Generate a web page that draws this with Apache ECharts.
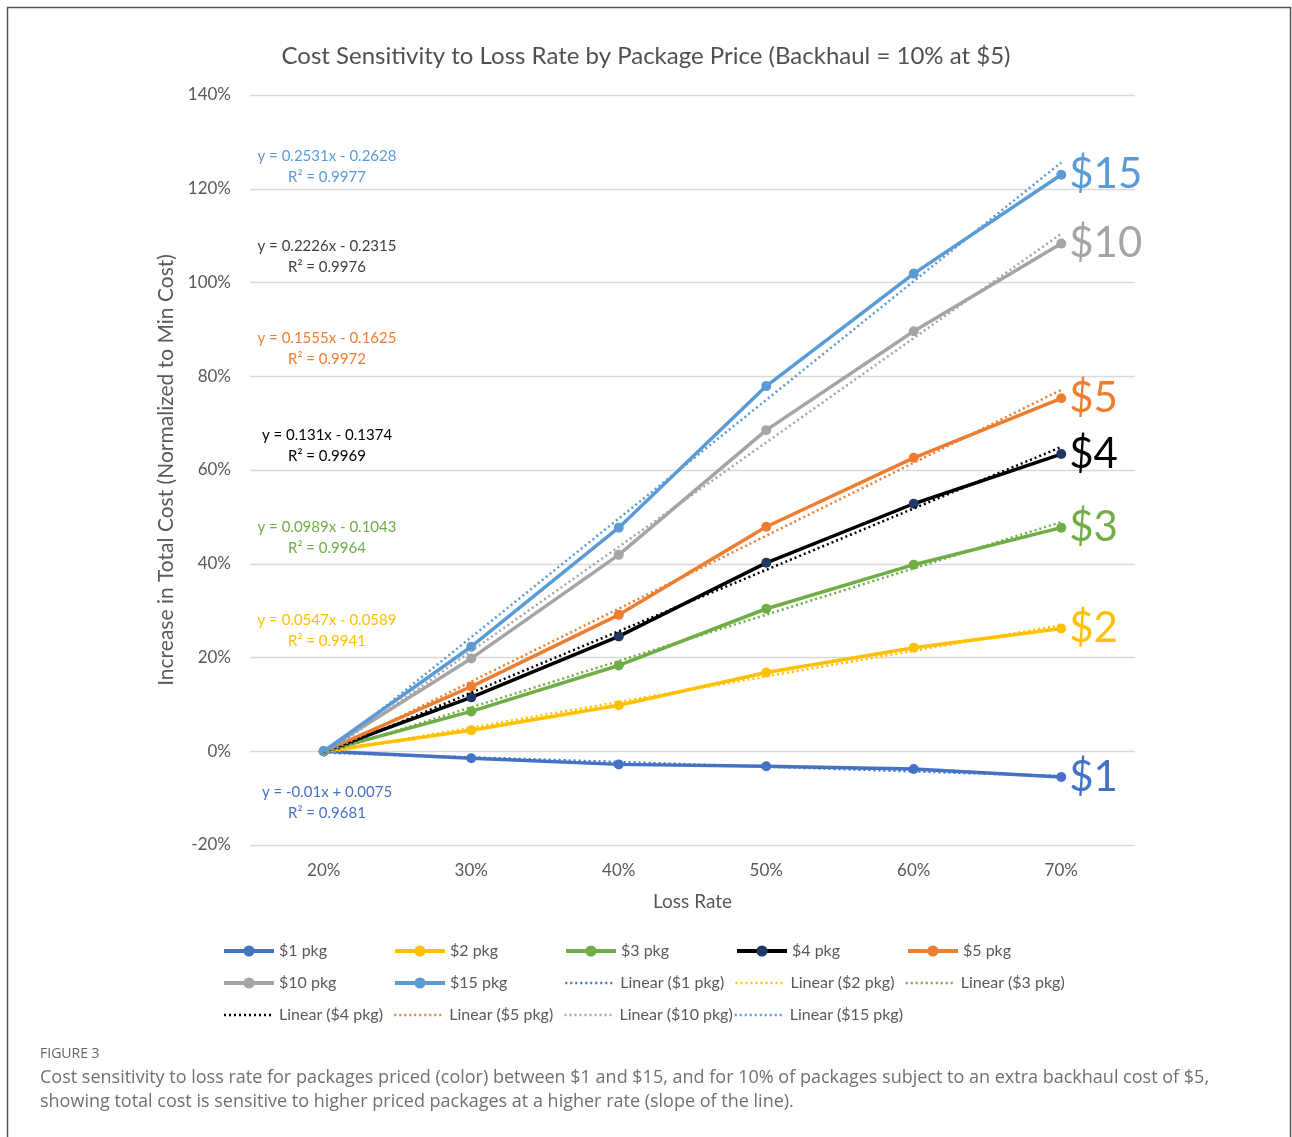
<!DOCTYPE html>
<html>
<head>
<meta charset="utf-8">
<script src="https://cdn.jsdelivr.net/npm/echarts@6/dist/echarts.min.js"></script>
<style>
  html, body { margin: 0; padding: 0; background: #fff; }
  #main { width: 1292px; height: 1137px; }
</style>
</head>
<body>
<div id="main"></div>
<script>
// loss rate categories
var lossRates = ['20%', '30%', '40%', '50%', '60%', '70%'];

// increase in total cost, %
var pkg1  = [0, -1.5, -2.8, -3.2, -3.8, -5.5];
var pkg2  = [0, 4.5, 9.8, 16.8, 22.1, 26.2];
var pkg3  = [0, 8.5, 18.3, 30.4, 39.8, 47.7];
var pkg4  = [0, 11.5, 24.5, 40.2, 52.8, 63.4];
var pkg5  = [0, 13.8, 29.1, 47.9, 62.6, 75.3];
var pkg10 = [0, 19.8, 41.9, 68.5, 89.6, 108.3];
var pkg15 = [0, 22.3, 47.7, 77.9, 101.9, 123.0];

// linear trendline ends (first and last category), %
var trend1  = [-0.3, null, null, null, null, -5.3];
var trend2  = [-0.4, null, null, null, null, 26.9];
var trend3  = [-0.5, null, null, null, null, 48.9];
var trend4  = [-0.6, null, null, null, null, 64.9];
var trend5  = [-0.7, null, null, null, null, 77.1];
var trend10 = [-0.9, null, null, null, null, 110.4];
var trend15 = [-1.0, null, null, null, null, 125.6];

// trendline equations shown on the chart
var eqLines = ['y = 0.2531x - 0.2628', 'y = 0.2226x - 0.2315', 'y = 0.1555x - 0.1625',
               'y = 0.131x - 0.1374', 'y = 0.0989x - 0.1043', 'y = 0.0547x - 0.0589',
               'y = -0.01x + 0.0075'];
var r2Lines = ['R² = 0.9977', 'R² = 0.9976', 'R² = 0.9972', 'R² = 0.9969',
               'R² = 0.9964', 'R² = 0.9941', 'R² = 0.9681'];

var pkgNames = ['$1 pkg', '$2 pkg', '$3 pkg', '$4 pkg', '$5 pkg', '$10 pkg', '$15 pkg'];
var trendNames = ['Linear ($1 pkg)', 'Linear ($2 pkg)', 'Linear ($3 pkg)', 'Linear ($4 pkg)',
                  'Linear ($5 pkg)', 'Linear ($10 pkg)', 'Linear ($15 pkg)'];

var FONT = 'Lato';
var c1 = '#4472C4', c2 = '#FFC000', c3 = '#70AD47', c4 = '#000000',
    c5 = '#ED7D31', c10 = '#A5A5A5', c15 = '#5B9BD5';

function pkgSeries(name, data, color, tag, markerColor) {
    return {
        name: name,
        type: 'line',
        data: data,
        symbol: 'circle',
        symbolSize: 10,
        lineStyle: { color: color, width: 3.5 },
        itemStyle: { color: markerColor || color },
        endLabel: {
            show: true,
            formatter: tag,
            color: color,
            fontFamily: FONT,
            fontSize: 42,
            distance: 8
        },
        emphasis: { disabled: true },
        z: 2
    };
}

function trendSeries(name, data, color) {
    return {
        name: name,
        type: 'line',
        data: data,
        connectNulls: true,
        symbol: 'none',
        lineStyle: { color: color, width: 2.5, type: [2, 3] },
        itemStyle: { color: color },
        emphasis: { disabled: true },
        z: 3
    };
}

var legendData = [];
pkgNames.forEach(function (n) {
    legendData.push({ name: n, lineStyle: { width: 4 } });
});
trendNames.forEach(function (n) {
    legendData.push({ name: n, lineStyle: { width: 2.5 }, itemStyle: { opacity: 0 } });
});

var eqColors = [c15, '#404040', c5, '#000000', c3, c2, c1];
var eqY = [156, 246, 338, 435, 527, 620, 792];
var graphics = [
    { type: 'rect', shape: { x: 7.5, y: 7.5, width: 1283, height: 1150 },
      style: { fill: null, stroke: '#555', lineWidth: 1.5 }, silent: true },
    { type: 'text', left: 40, top: 1047,
      style: { text: 'FIGURE 3', fill: '#666', font: '14px "Open Sans"' } },
    { type: 'text', left: 40, top: 1066,
      style: { text: 'Cost sensitivity to loss rate for packages priced (color) between $1 and $15, and for 10% of packages subject to an extra backhaul cost of $5,\nshowing total cost is sensitive to higher priced packages at a higher rate (slope of the line).',
               fill: '#707070', font: '18px "Open Sans"', lineHeight: 24 } }
];
for (var i = 0; i < eqLines.length; i++) {
    graphics.push({ type: 'text', x: 327, y: eqY[i],
        style: { text: eqLines[i], fill: eqColors[i], font: '15px ' + FONT, align: 'center', verticalAlign: 'middle' } });
    graphics.push({ type: 'text', x: 327, y: eqY[i] + 21,
        style: { text: r2Lines[i], fill: eqColors[i], font: '15px ' + FONT, align: 'center', verticalAlign: 'middle' } });
}

var chart = echarts.init(document.getElementById('main'));
chart.setOption({
    animation: false,
    backgroundColor: '#fff',
    textStyle: { fontFamily: FONT },
    title: {
        text: 'Cost Sensitivity to Loss Rate by Package Price (Backhaul = 10% at $5)',
        left: 'center',
        top: 39,
        textStyle: { fontFamily: FONT, fontSize: 24, fontWeight: 'normal', color: '#505050' }
    },
    grid: { left: 250, right: 157, top: 95, bottom: 292, containLabel: false },
    xAxis: {
        type: 'category',
        data: lossRates,
        boundaryGap: true,
        name: 'Loss Rate',
        nameLocation: 'middle',
        nameGap: 47,
        nameTextStyle: { fontFamily: FONT, fontSize: 19, color: '#595959' },
        axisLine: { show: false },
        axisTick: { show: false },
        axisLabel: { fontFamily: FONT, fontSize: 17, color: '#595959', margin: 17 }
    },
    yAxis: {
        type: 'value',
        min: -20,
        max: 140,
        interval: 20,
        name: 'Increase in Total Cost (Normalized to Min Cost)',
        nameLocation: 'middle',
        nameGap: 71,
        nameTextStyle: { fontFamily: FONT, fontSize: 21, color: '#595959' },
        axisLine: { show: false },
        axisTick: { show: false },
        axisLabel: { fontFamily: FONT, fontSize: 17, color: '#595959', margin: 19, formatter: '{value}%' },
        splitLine: { lineStyle: { color: '#d9d9d9', width: 1.3 } }
    },
    legend: {
        left: 222,
        top: 935,
        width: 870,
        padding: 0,
        itemWidth: 50,
        itemHeight: 14,
        itemGap: 0,
        textStyle: { fontFamily: FONT, fontSize: 16, color: '#595959', width: 114, lineHeight: 32 },
        data: legendData
    },
    graphic: graphics,
    series: [
        pkgSeries(pkgNames[0], pkg1, c1, '$1'),
        pkgSeries(pkgNames[1], pkg2, c2, '$2'),
        pkgSeries(pkgNames[2], pkg3, c3, '$3'),
        pkgSeries(pkgNames[3], pkg4, c4, '$4', '#1F3864'),
        pkgSeries(pkgNames[4], pkg5, c5, '$5'),
        pkgSeries(pkgNames[5], pkg10, c10, '$10'),
        pkgSeries(pkgNames[6], pkg15, c15, '$15'),
        trendSeries(trendNames[0], trend1, c1),
        trendSeries(trendNames[1], trend2, c2),
        trendSeries(trendNames[2], trend3, c3),
        trendSeries(trendNames[3], trend4, c4),
        trendSeries(trendNames[4], trend5, c5),
        trendSeries(trendNames[5], trend10, c10),
        trendSeries(trendNames[6], trend15, c15)
    ]
});
</script>
</body>
</html>
